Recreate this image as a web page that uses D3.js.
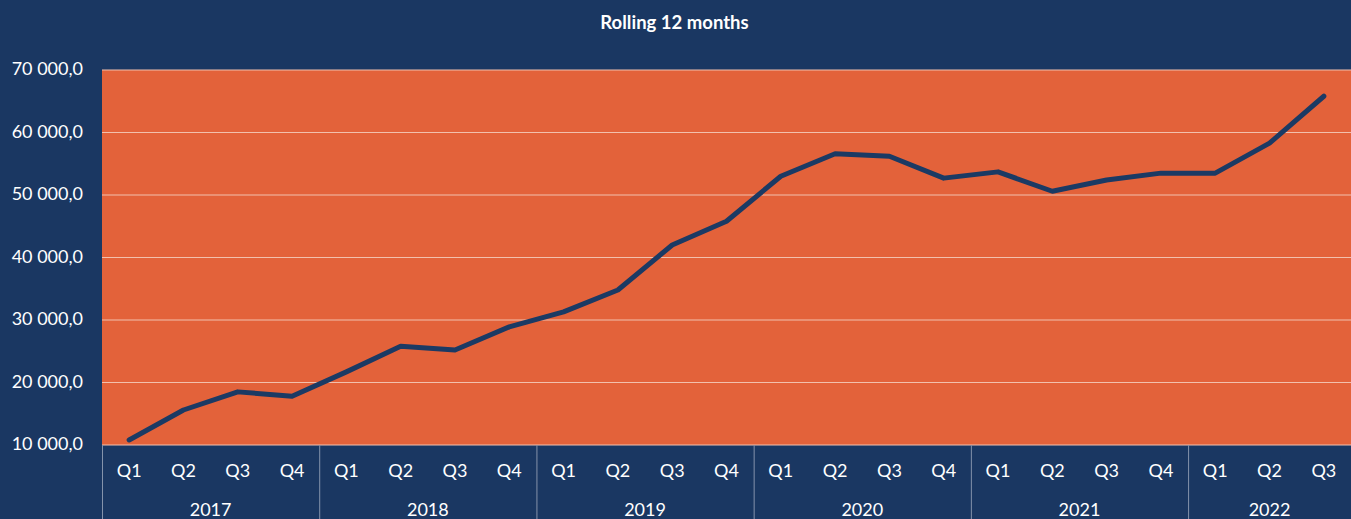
<!DOCTYPE html>
<html>
<head>
<meta charset="utf-8">
<script src="https://cdn.jsdelivr.net/npm/d3@7"></script>
<style>
  html, body { margin: 0; padding: 0; background: #1a3762; }
  svg { display: block; }
</style>
</head>
<body>
<svg id="container"></svg>
<script>
var years = ["2017", "2018", "2019", "2020", "2021", "2022"];
var quarters = ["Q1", "Q2", "Q3", "Q4"];
var quartersPerYear = [4, 4, 4, 4, 4, 3];
var values = [10800, 15600, 18500, 17800,
              21700, 25800, 25200, 28900,
              31300, 34800, 42000, 45800,
              53000, 56600, 56200, 52700,
              53700, 50600, 52400, 53500,
              53500, 58300, 65800];
var yTicks = [10000, 20000, 30000, 40000, 50000, 60000, 70000];

window.onload = function(){
    const W = 1351, H = 519;
    const margin = {top: 70, right: 0, bottom: 74, left: 102};
    var w = W - margin.left - margin.right,
        h = H - margin.top - margin.bottom;

    var svg = d3.select("#container").attr("width", W).attr("height", H);
    svg.append("rect").attr("width", W).attr("height", H).attr("fill", "#1a3762");

    svg.append("text")
        .attr("x", W / 2 - 1).attr("y", 29)
        .attr("text-anchor", "middle")
        .attr("fill", "#ffffff")
        .style("font-family", "Lato, 'Open Sans', sans-serif")
        .style("font-weight", "bold")
        .style("font-size", "18.5px")
        .text("Rolling 12 months");

    // build point list
    var points = [];
    var k = 0;
    years.forEach(function(y, i){
        for (var q = 0; q < quartersPerYear[i]; q++) {
            points.push({year: y, q: quarters[q], key: y + quarters[q], value: values[k]});
            k++;
        }
    });

    var g = svg.append("g").attr("transform", "translate(" + margin.left + "," + margin.top + ")");

    var xBand = d3.scaleBand().domain(points.map(d => d.key)).range([0, w]);
    var yScale = d3.scaleLinear().domain([10000, 70000]).range([h, 0]);

    g.append("rect").attr("width", w).attr("height", h).attr("fill", "#e3623a");

    // gridlines
    g.selectAll(".grid").data(yTicks).enter().append("line")
        .attr("x1", 0).attr("x2", w)
        .attr("y1", d => yScale(d)).attr("y2", d => yScale(d))
        .attr("stroke", "#f2c0ad").attr("stroke-width", 1);

    // y labels
    var fmt = function(d){
        var s = String(d);
        return s.slice(0, s.length - 3) + " " + s.slice(-3) + ",0";
    };
    g.selectAll(".ylab").data(yTicks).enter().append("text")
        .attr("x", -19).attr("y", d => yScale(d) - 1)
        .attr("dy", "0.35em")
        .attr("text-anchor", "end")
        .attr("fill", "#ffffff")
        .style("font-family", "Lato, 'Open Sans', sans-serif")
        .style("font-size", "18px")
        .text(fmt);

    // quarter labels
    g.selectAll(".qlab").data(points).enter().append("text")
        .attr("x", d => xBand(d.key) + xBand.bandwidth() / 2)
        .attr("y", h + 32)
        .attr("text-anchor", "middle")
        .attr("fill", "#ffffff")
        .style("font-family", "Lato, 'Open Sans', sans-serif")
        .style("font-size", "18px")
        .text(d => d.q);

    // year labels and separators
    var yearGroups = years.map(function(y){
        var pts = points.filter(d => d.year === y);
        return {year: y, start: xBand(pts[0].key), end: xBand(pts[pts.length - 1].key) + xBand.bandwidth()};
    });
    g.selectAll(".ylabel").data(yearGroups).enter().append("text")
        .attr("x", d => (d.start + d.end) / 2)
        .attr("y", h + 71)
        .attr("text-anchor", "middle")
        .attr("fill", "#ffffff")
        .style("font-family", "Lato, 'Open Sans', sans-serif")
        .style("font-size", "18px")
        .text(d => d.year);
    g.selectAll(".sep").data(yearGroups).enter().append("line")
        .attr("x1", d => d.start + 0.5).attr("x2", d => d.start + 0.5)
        .attr("y1", h).attr("y2", H - margin.top)
        .attr("stroke", "#8493ab").attr("stroke-width", 1);

    // line
    var line = d3.line()
        .x(d => xBand(d.key) + xBand.bandwidth() / 2)
        .y(d => yScale(d.value));
    g.append("path").datum(points)
        .attr("d", line)
        .attr("fill", "none")
        .attr("stroke", "#1b3a64")
        .attr("stroke-width", 5)
        .attr("stroke-linecap", "round")
        .attr("stroke-linejoin", "round");
};
</script>
</body>
</html>
